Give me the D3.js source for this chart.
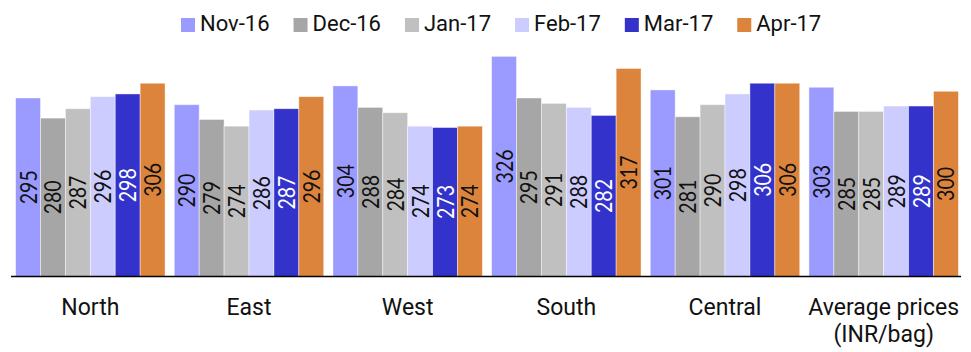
<!DOCTYPE html>
<html>
<head>
<meta charset="utf-8">
<script src="https://cdn.jsdelivr.net/npm/d3@7"></script>
<style>
  body { margin: 0; background: #fff; }
  text { font-family: Roboto, "Noto Sans", sans-serif; fill: #111; }
  text.val { font-family: Lato, Roboto, sans-serif; }
</style>
</head>
<body>
<div id="chart"></div>
<script>
var width = 971;
var height = 352;

// data
var regions = ['North', 'East', 'West', 'South', 'Central', 'Average prices|(INR/bag)'];
var months = ['Nov-16', 'Dec-16', 'Jan-17', 'Feb-17', 'Mar-17', 'Apr-17'];
var nov16 = [295, 290, 304, 326, 301, 303];
var dec16 = [280, 279, 288, 295, 281, 285];
var jan17 = [287, 274, 284, 291, 290, 285];
var feb17 = [296, 286, 274, 288, 298, 289];
var mar17 = [298, 287, 273, 282, 306, 289];
var apr17 = [306, 296, 274, 317, 306, 300];
var series = [nov16, dec16, jan17, feb17, mar17, apr17];

var colors = ['#9b9bff', '#a6a6a6', '#c0c0c0', '#ccccff', '#3333cc', '#dc843c'];
var labelColors = ['#111', '#111', '#111', '#111', '#fff', '#111'];

var axisY = 276.5;

var svg = d3.select('#chart').append('svg')
    .attr('width', width)
    .attr('height', height);

// scales
var x0 = d3.scaleBand()
    .domain(regions)
    .range([11, 963])
    .paddingInner(0.058)
    .paddingOuter(0.029);

var x1 = d3.scaleBand()
    .domain(months)
    .range([0, x0.bandwidth()]);

var y = d3.scaleLinear()
    .domain([162, 330])
    .range([axisY, 51]);

// bars
var groups = svg.selectAll('g.region')
    .data(regions)
    .enter()
    .append('g')
    .attr('class', 'region')
    .attr('transform', d => `translate(${x0(d)}, 0)`);

groups.each(function (r, ri) {
    var g = d3.select(this);
    months.forEach(function (m, mi) {
        var v = series[mi][ri];
        g.append('rect')
            .attr('x', x1(m))
            .attr('y', y(v))
            .attr('width', x1.bandwidth())
            .attr('height', axisY - y(v))
            .attr('fill', colors[mi])
            .attr('stroke', 'rgba(255,255,255,0.55)')
            .attr('stroke-width', 0.8);

        var cx = x1(m) + x1.bandwidth() / 2;
        var cy = (y(v) + axisY) / 2;
        g.append('text')
            .attr('class', 'val')
            .attr('transform', `translate(${cx + 8.5}, ${cy}) rotate(-90)`)
            .attr('text-anchor', 'middle')
            .attr('textLength', 34)
            .attr('lengthAdjust', 'spacingAndGlyphs')
            .style('font-size', '24px')
            .style('fill', labelColors[mi])
            .text(v);
    });
});

// x axis line
svg.append('line')
    .attr('x1', 11)
    .attr('x2', 961)
    .attr('y1', axisY)
    .attr('y2', axisY)
    .attr('stroke', '#000')
    .attr('stroke-width', 1.5);

// category labels
regions.forEach(function (r) {
    var lines = r.split('|');
    var t = svg.append('text')
        .attr('x', x0(r) + x0.bandwidth() / 2)
        .attr('y', 315)
        .attr('text-anchor', 'middle')
        .style('font-size', '23px');
    lines.forEach(function (l, i) {
        t.append('tspan')
            .attr('x', x0(r) + x0.bandwidth() / 2)
            .attr('dy', i === 0 ? 0 : 27)
            .text(l);
    });
});

// legend
var lx = 181;
months.forEach(function (m, i) {
    svg.append('rect')
        .attr('x', lx)
        .attr('y', 18)
        .attr('width', 14)
        .attr('height', 14)
        .attr('fill', colors[i]);
    var t = svg.append('text')
        .attr('x', lx + 19)
        .attr('y', 31)
        .style('font-size', '22px')
        .text(m);
    lx += 19 + t.node().getComputedTextLength() + 24;
});
</script>
</body>
</html>
